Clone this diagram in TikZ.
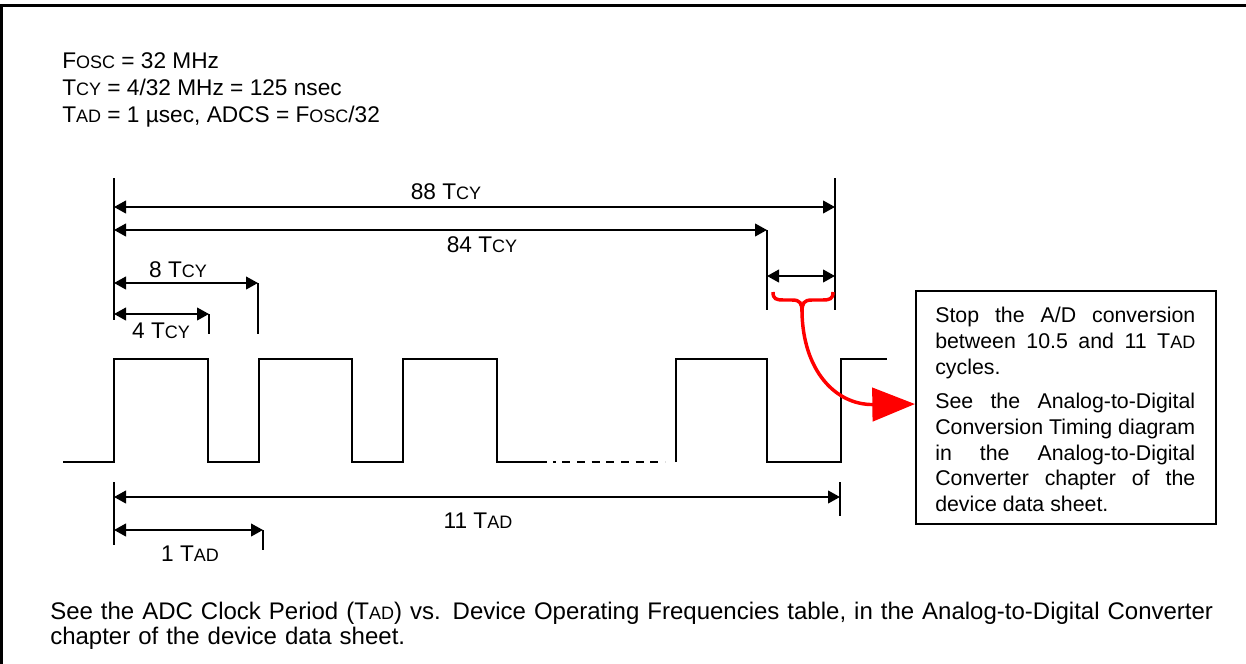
\documentclass[tikz,border=0pt]{standalone}
\usepackage{fontspec}
\setmainfont{Liberation Sans}
\usepackage{xcolor}
\usetikzlibrary{arrows.meta}

\newcommand{\lowcap}[1]{{\fontsize{13.5pt}{13.5pt}\selectfont #1}}

\begin{document}
\begin{tikzpicture}[x=0.75pt,y=0.75pt,yscale=-1,xscale=1,
  font=\fontsize{17pt}{18.75pt}\selectfont,
  dim/.style={{Triangle[length=9pt,width=9.5pt]}-{Triangle[length=9pt,width=9.5pt]},line width=1.5pt},
  tick/.style={line width=1.5pt},
  lbl/.style={anchor=base,inner sep=0pt}]
\path[use as bounding box] (0,0) rectangle (1246,664);

%Frame
\draw [line width=2.25pt] (1.5,664) -- (1.5,5) -- (1246,5) ;

% Text Node
\node [anchor=base west,inner sep=0pt] (fosc) at (62,68) {F\lowcap{OSC} = 32 MHz};
% Text Node
\node [anchor=base west,inner sep=0pt] (tcy) at (62,95) {T\lowcap{CY} = 4/32 MHz = 125 nsec};
% Text Node
\node [anchor=base west,inner sep=0pt] (tad) at (62,122) {T\lowcap{AD} = 1 µsec, ADCS = F\lowcap{OSC}/32};

%Straight Lines
\draw [tick] (114,178) -- (114,320) ;
\draw [tick] (835,178) -- (835,310) ;
\draw [tick] (767,230) -- (767,310) ;
\draw [tick] (258,283) -- (258,334) ;
\draw [tick] (209,314) -- (209,334) ;

%Dimension Arrows
\draw [dim] (114,207) -- (835,207) ;
\draw [dim] (114,230) -- (767,230) ;
\draw [dim] (114,283) -- (258,283) ;
\draw [dim] (114,314) -- (209,314) ;
\draw [dim] (767,276) -- (835,276) ;

% Text Node
\node [lbl] (l88) at (446,199) {88 T\lowcap{CY}};
% Text Node
\node [lbl] (l84) at (482,252) {84 T\lowcap{CY}};
% Text Node
\node [lbl] (l8) at (178,277) {8 T\lowcap{CY}};
% Text Node
\node [lbl] (l4) at (161,338) {4 T\lowcap{CY}};

%Waveform
\draw [line width=1.5pt] (63,462) -- (114,462) -- (114,359) -- (208,359) -- (208,462) -- (259,462) -- (259,359) -- (352,359) -- (352,462) -- (403,462) -- (403,359) -- (497,359) -- (497,462) -- (547,462) ;
\draw [line width=1.5pt,dash pattern={on 2pt off 5pt on 6pt off 5pt on 6pt off 5pt on 6pt off 5pt on 6pt off 5pt on 6pt off 5pt on 6pt off 5pt on 6pt off 5pt on 2pt}] (553,462) -- (665,462) ;
\draw [line width=1.5pt] (676,462) -- (676,359) -- (767,359) -- (767,462) -- (841,462) -- (841,359) -- (887,359) ;

%Straight Lines
\draw [tick] (114,482) -- (114,545) ;
\draw [tick] (840,482) -- (840,516) ;
\draw [tick] (263,530) -- (263,550) ;
\draw [dim] (114,497) -- (840,497) ;
\draw [dim] (114,530) -- (263,530) ;

% Text Node
\node [lbl] (l11) at (478,528) {11 T\lowcap{AD}};
% Text Node
\node [lbl] (l1) at (190,561) {1 T\lowcap{AD}};

% Note Box
\node [draw,line width=1.5pt,anchor=north west,minimum width=300*0.75pt,minimum height=233*0.75pt] (note) at (915,290) {};
\node [anchor=north west,inner sep=0pt,text width=260*0.75pt,align=justify,
  font=\fontsize{16pt}{19.3pt}\selectfont] (notetext) at (935,307)
  {Stop the A/D conversion\linebreak between 10.5 and 11 T\lowcap{AD}\linebreak cycles.\par\vspace{6.5pt}
   See the Analog-to-Digital\linebreak Conversion Timing diagram\linebreak in the Analog-to-Digital\linebreak Converter chapter of the\linebreak device data sheet.};

%Red Brace
\coordinate (bracetip) at (802,312);
\draw [color=red,line width=2.6pt] (773,292) .. controls (773,299) and (776,300) .. (784,300) -- (792,300) .. controls (800,300) and (802,303) .. (bracetip) ;
\draw [color=red,line width=2.6pt] (833,292) .. controls (833,299) and (830,300) .. (822,300) -- (812,300) .. controls (804,300) and (802,303) .. (bracetip) ;

%Curve Lines
\draw [color=red,line width=2.6pt,-{Triangle[length=32pt,width=25pt]}] (bracetip) .. controls (803,370) and (835,405) .. ([yshift=-2.6pt]note.west) ;

% Text Node
\node [anchor=base west,inner sep=0pt,align=left,text width=1180*0.75pt,
  font=\fontsize{18pt}{18.75pt}\selectfont] (seeadc) at (50,619)
  {See the ADC Clock Period (T\lowcap{AD}) vs. Device Operating Frequencies table, in the Analog-to-Digital Converter\\chapter of the device data sheet.};
\end{tikzpicture}
\end{document}
